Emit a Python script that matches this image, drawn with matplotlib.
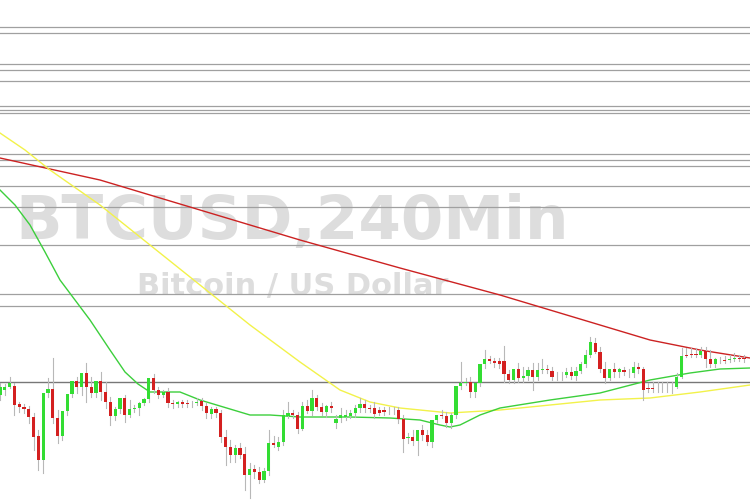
import matplotlib.pyplot as plt

# candle bodies read from a 3x zoom of the lower band (zoom units; pixel y = z/3 + 330)
opens = [195, 180, 170, 168, 222, 230, 237, 262, 318, 390, 190, 178, 265, 318, 243, 192, 152, 172, 130, 172,
         188, 152, 185, 215, 257, 237, 205, 255, 237, 235, 218, 207, 143, 180, 195, 187, 218, 222, 217, 220,
         220, 218, 213, 228, 252, 238, 248, 320, 350, 375, 355, 373, 436, 417, 427, 450, 424, 340, 350, 337,
         258, 250, 255, 298, 227, 242, 205, 232, 245, 227, 280, 265, 260, 258, 250, 235, 222, 235, 235, 240,
         240, 242, 242, 240, 268, 325, 320, 333, 300, 315, 335, 270, 255, 258, 278, 255, 168, 160, 155, 185,
         160, 102, 88, 92, 92, 92, 132, 150, 118, 145, 137, 120, 142, 120, 118, 123, 137, 137, 135, 125,
         137, 123, 103, 75, 38, 65, 117, 143, 117, 127, 120, 128, 130, 112, 118, 175, 175, 174, 173, 173,
         173, 170, 140, 75, 73, 73, 75, 63, 88, 102, 92, 90, 90, 86, 85, 85]
closes = [170, 170, 160, 225, 232, 237, 262, 320, 390, 190, 178, 265, 318, 243, 192, 152, 172, 130, 172, 188,
          152, 185, 215, 257, 237, 205, 255, 237, 233, 218, 207, 145, 180, 195, 187, 218, 223, 217, 223, 220,
          218, 215, 228, 250, 238, 248, 320, 350, 375, 355, 375, 436, 417, 427, 450, 424, 340, 345, 337, 255,
          248, 255, 298, 227, 242, 205, 232, 245, 227, 235, 267, 255, 255, 250, 235, 222, 235, 235, 253, 248,
          245, 242, 242, 268, 328, 320, 333, 300, 315, 335, 270, 255, 255, 278, 255, 168, 158, 155, 185, 160,
          102, 87, 92, 100, 102, 132, 150, 118, 145, 137, 120, 142, 120, 116, 118, 140, 137, 137, 125, 137,
          123, 103, 75, 35, 65, 117, 143, 117, 127, 117, 127, 128, 112, 118, 180, 175, 175, 173, 173, 173,
          173, 142, 78, 75, 73, 73, 63, 88, 102, 88, 92, 90, 86, 83, 85, 88]
highs = [160, 162, 140, 160, 215, 222, 228, 250, 300, 355, 145, 85, 240, 250, 230, 175, 140, 150, 100, 140,
         170, 125, 155, 200, 230, 225, 195, 210, 225, 215, 205, 190, 132, 170, 180, 175, 210, 212, 210, 210,
         212, 205, 205, 220, 230, 230, 240, 300, 330, 345, 340, 350, 400, 405, 410, 415, 300, 318, 320, 240,
         215, 240, 245, 215, 210, 180, 195, 220, 225, 215, 255, 235, 240, 240, 225, 205, 210, 225, 215, 232,
         230, 232, 232, 230, 255, 310, 300, 310, 285, 300, 300, 255, 240, 245, 250, 240, 95, 145, 140, 170,
         140, 60, 78, 85, 85, 48, 120, 130, 100, 110, 110, 100, 100, 88, 105, 110, 125, 125, 115, 110,
         110, 95, 60, 22, 25, 50, 95, 125, 100, 115, 110, 118, 95, 100, 110, 160, 155, 155, 155, 155,
         155, 130, 55, 55, 55, 55, 50, 52, 60, 85, 80, 78, 75, 70, 75, 75]
lows = [210, 195, 175, 255, 245, 250, 280, 360, 420, 430, 200, 280, 340, 330, 255, 200, 190, 195, 215, 200,
        200, 210, 235, 285, 270, 250, 275, 260, 245, 255, 225, 215, 190, 205, 200, 230, 235, 230, 230, 232,
        230, 225, 240, 265, 265, 260, 335, 405, 395, 395, 385, 480, 505, 445, 460, 455, 435, 350, 360, 345,
        265, 265, 310, 300, 250, 255, 240, 255, 260, 245, 295, 275, 270, 265, 260, 245, 245, 245, 265, 255,
        255, 252, 252, 280, 365, 340, 345, 375, 330, 345, 350, 280, 265, 292, 295, 265, 178, 165, 200, 200,
        168, 115, 100, 110, 115, 155, 158, 160, 155, 155, 150, 180, 150, 128, 128, 150, 150, 150, 140, 148,
        150, 130, 110, 80, 70, 125, 160, 150, 140, 140, 135, 140, 140, 130, 210, 185, 185, 185, 185, 185,
        190, 175, 145, 80, 80, 80, 82, 110, 112, 110, 100, 98, 95, 92, 92, 95]
candle_step = 4.8  # px between candles

# moving averages (pixel x, pixel y)
red_x = [0, 100, 200, 300, 400, 500, 550, 600, 650, 700, 750]
red_y = [158, 180, 210, 240, 268, 295, 310, 325, 340, 350, 358]
yellow_x = [0, 25, 50, 100, 150, 200, 250, 300, 340, 370, 400, 450, 500, 550, 600, 650, 700, 750]
yellow_y = [133, 150, 170, 205, 245, 285, 325, 362, 390, 402, 408, 413, 410, 405, 400, 398, 392, 385]
green_x = [0, 15, 30, 45, 60, 90, 110, 125, 138, 150, 180, 200, 250, 270, 300, 350, 390, 420, 440, 450,
           460, 480, 500, 550, 600, 650, 690, 720, 750]
green_y = [190, 205, 225, 252, 280, 320, 350, 372, 384, 392, 392, 400, 415, 415, 417, 417, 418, 420, 425,
           427, 425, 415, 408, 400, 393, 380, 373, 369, 368]

# horizontal level lines (pixel y)
level_y = [27, 33, 64, 70, 81, 106, 110, 113, 154, 160, 166, 186, 207, 245, 294, 306]
base_y = 382


def to_px(z):
    return z / 3 + 330


fig = plt.figure(figsize=(7.5, 5), dpi=100)
ax = fig.add_axes([0, 0, 1, 1])
ax.set_xlim(0, 750)
ax.set_ylim(500, 0)
ax.axis("off")

for y in level_y:
    ax.axhline(y, color="#a0a0a0", lw=0.9, zorder=1)
ax.axhline(base_y, color="#777777", lw=1.0, zorder=1)

ax.text(292, 222, "BTCUSD,240Min", fontsize=44, fontweight="bold", color="#dddddd",
        ha="center", va="center", zorder=0)
ax.text(293, 287, "Bitcoin / US Dollar", fontsize=22, fontweight="bold", color="#dddddd",
        ha="center", va="center", zorder=0)

ax.plot(red_x, red_y, color="#cc2222", lw=1.0, zorder=3)
ax.plot(yellow_x, yellow_y, color="#f2f24a", lw=1.0, zorder=3)
ax.plot(green_x, green_y, color="#3ccf3c", lw=1.0, zorder=3)

for i, (o, c, h, l) in enumerate(zip(opens, closes, highs, lows)):
    x = i * candle_step
    up = c < o  # smaller z means higher price
    col = "#33dd33" if up else "#d42020"
    ax.plot([x, x], [to_px(h), to_px(l)], color="#b8b8b8", lw=0.8, zorder=4)
    top, bot = to_px(min(o, c)), to_px(max(o, c))
    ax.bar(x, max(bot - top, 0.8), bottom=top, width=3.2, color=col, zorder=5)

fig.savefig("out.png", dpi=100)
